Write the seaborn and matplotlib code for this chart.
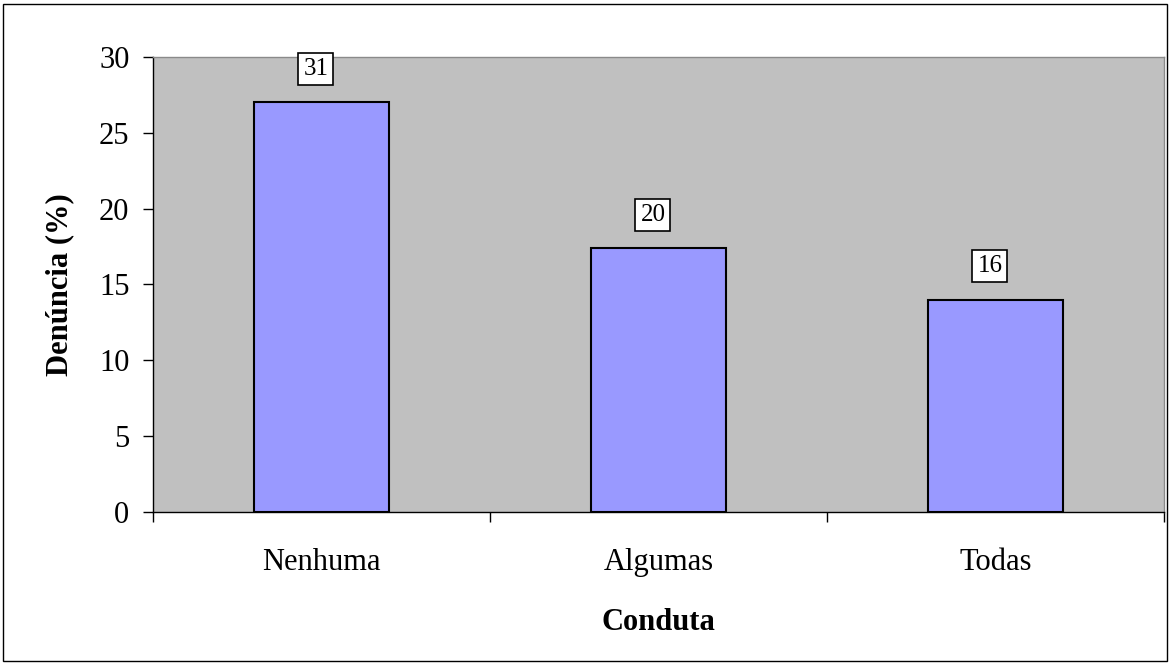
import matplotlib
matplotlib.use("Agg")
import matplotlib.pyplot as plt
import seaborn as sns
import pandas as pd
from matplotlib.patches import Rectangle

# Data
categorias = ["Nenhuma", "Algumas", "Todas"]
denuncia_pct = [27.0, 17.4, 14.0]
rotulos = ["31", "20", "16"]

df = pd.DataFrame({"Conduta": categorias, "Denuncia": denuncia_pct})

sns.set_style("white")
plt.rcParams["font.family"] = ["Liberation Serif", "DejaVu Serif"]
plt.rcParams["text.color"] = "black"
plt.rcParams["axes.labelcolor"] = "black"
plt.rcParams["xtick.color"] = "black"
plt.rcParams["ytick.color"] = "black"

fig = plt.figure(figsize=(11.71, 6.64), dpi=100)
ax = fig.add_axes([0.1307, 0.2289, 0.9940 - 0.1307, 0.9142 - 0.2289])

sns.barplot(data=df, x="Conduta", y="Denuncia", color="#9999FF",
            saturation=1, width=0.4, edgecolor="black", linewidth=1.5, ax=ax)

ax.set_facecolor("#C0C0C0")
ax.set_xlim(-0.5, 2.5)
ax.set_ylim(0, 30)
ax.set_yticks([0, 5, 10, 15, 20, 25, 30])

# Value labels in boxes above the bars
for i, (v, lab) in enumerate(zip(denuncia_pct, rotulos)):
    ax.annotate(lab, xy=(i, v), xytext=(-4, 24), textcoords="offset points",
                ha="center", va="center", fontsize=18, color="black",
                bbox=dict(boxstyle="square,pad=0.2", fc="white", ec="black", lw=1.2))

# Spines
for s in ["left", "bottom"]:
    ax.spines[s].set_color("black")
    ax.spines[s].set_linewidth(1.0)
for s in ["top", "right"]:
    ax.spines[s].set_color("#8a8a8a")
    ax.spines[s].set_linewidth(1.0)

# Ticks: y ticks outward, x ticks at category boundaries
ax.tick_params(axis="y", which="major", direction="out", length=7, width=1,
               color="black", labelcolor="black", labelsize=22, pad=10, left=True)
ax.tick_params(axis="x", which="major", length=0, labelsize=22, labelcolor="black", pad=26)
ax.set_xticks([-0.5, 0.5, 1.5, 2.5], minor=True)
ax.tick_params(axis="x", which="minor", direction="out", length=7, width=1,
               color="black", bottom=True)

ax.set_xlabel("Conduta", fontsize=22, fontweight="bold", color="black")
ax.set_ylabel("Denúncia (%)", fontsize=22, fontweight="bold", color="black")
ax.xaxis.set_label_coords(0.5, -0.21)
ax.yaxis.set_label_coords(-0.078, 0.5)

# Outer frame around the chart
fig.patches.append(Rectangle((3 / 1171, 3 / 664), 1 - 7 / 1171, 1 - 7 / 664,
                             transform=fig.transFigure, fill=False,
                             edgecolor="black", linewidth=1.0))

fig.savefig("out.png", dpi=100)
